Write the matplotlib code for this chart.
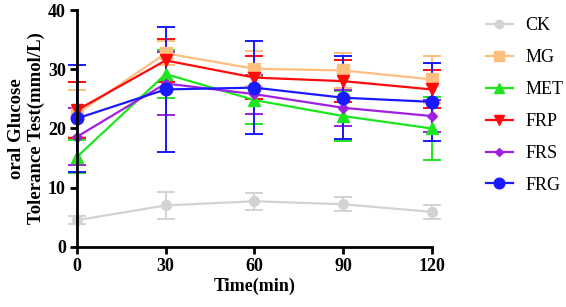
import numpy as np
import matplotlib.pyplot as plt
from matplotlib.lines import Line2D

plt.rcParams['font.family'] = ['Liberation Serif', 'DejaVu Serif']

time = [0, 30, 60, 90, 120]
groups = ['CK', 'MG', 'MET', 'FRP', 'FRS', 'FRG']

ck = [4.5, 7.0, 7.7, 7.2, 5.9]
ck_err = [0.7, 2.3, 1.4, 1.2, 1.2]
mg = [22.5, 32.7, 30.1, 29.8, 28.3]
mg_err = [4.0, 2.0, 3.0, 3.0, 4.0]
met = [15.2, 29.2, 24.8, 22.1, 20.0]
met_err = [2.8, 4.1, 4.1, 4.2, 5.4]
frp = [23.1, 31.5, 28.6, 28.0, 26.6]
frp_err = [4.7, 3.7, 3.6, 3.5, 3.2]
frs = [18.6, 27.6, 25.8, 23.5, 22.1]
frs_err = [4.8, 5.4, 3.3, 3.0, 2.7]
frg = [21.7, 26.6, 26.9, 25.2, 24.5]
frg_err = [9.0, 10.6, 7.8, 7.0, 6.6]

means = [ck, mg, met, frp, frs, frg]
errs = [ck_err, mg_err, met_err, frp_err, frs_err, frg_err]
colors = ['#d3d3d3', '#fdbf80', '#1ee61e', '#ff0a0a', '#a020e0', '#1a1aff']
markers = ['o', 's', '^', 'v', 'D', 'o']
msizes = [7, 8, 8, 8, 5, 9]

fig = plt.figure(figsize=(5.66, 3.07), dpi=100)
ax = fig.add_axes([0.136, 0.196, 0.627, 0.771])

for name, m, e, c, mk, ms in zip(groups, means, errs, colors, markers, msizes):
    ax.errorbar(time, m, yerr=e, color=c, marker=mk, markersize=ms, lw=1.6,
                elinewidth=1.4, capsize=6.5, capthick=1.4, clip_on=False)

ax.set_xlim(0, 120)
ax.set_ylim(0, 40)
ax.set_xticks(time)
ax.set_yticks([0, 10, 20, 30, 40])
for s in ['top', 'right']:
    ax.spines[s].set_visible(False)
for s in ['left', 'bottom']:
    ax.spines[s].set_linewidth(2)
ax.tick_params(width=2, length=5, labelsize=13, pad=3)
for lab in ax.get_xticklabels() + ax.get_yticklabels():
    lab.set_fontweight('bold')

ax.set_xlabel('Time(min)', fontsize=13, fontweight='bold', labelpad=2)
ax.set_ylabel('oral Glucose\nTolerance Test(mmol/L)', fontsize=13.5, fontweight='bold', labelpad=2)

handles = [Line2D([], [], color=c, marker=mk, markersize=ms * 0.85, lw=1.6)
           for c, mk, ms in zip(colors, markers, msizes)]
fig.legend(handles, groups, loc='upper left', bbox_to_anchor=(0.858, 0.945), frameon=False,
           fontsize=13, handlelength=1.5, labelspacing=0.83, handletextpad=0.7,
           borderpad=0, borderaxespad=0)

fig.savefig('out.png', dpi=100)
